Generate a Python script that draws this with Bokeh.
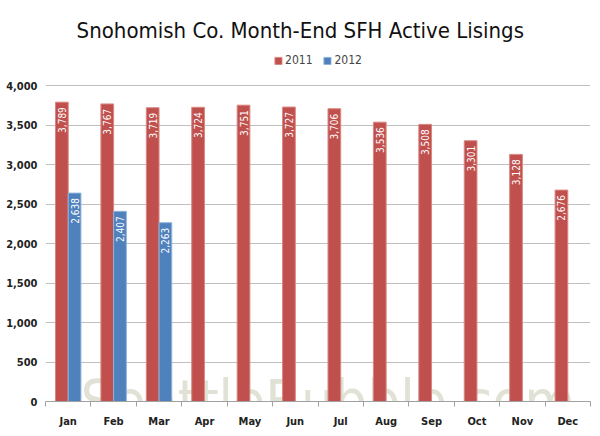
from bokeh.plotting import figure
from bokeh.models import (FactorRange, ColumnDataSource, Legend, LegendItem, NumeralTickFormatter, Label,
                          FixedTicker, Range1d, LinearAxis)
from bokeh.transform import dodge
from bokeh.core.properties import value
from bokeh.embed import file_html
from bokeh.resources import INLINE

months = ["Jan", "Feb", "Mar", "Apr", "May", "Jun", "Jul", "Aug", "Sep", "Oct", "Nov", "Dec"]
y2011 = [3789, 3767, 3719, 3724, 3751, 3727, 3706, 3536, 3508, 3301, 3128, 2676]
months2012 = ["Jan", "Feb", "Mar"]
y2012 = [2638, 2407, 2263]
yticks = [0, 500, 1000, 1500, 2000, 2500, 3000, 3500, 4000]
title_text = "Snohomish Co. Month-End SFH Active Lisings"

FONT = "DejaVu Sans Condensed"
RED = "#C0504D"
BLUE = "#4F81BD"

src11 = ColumnDataSource(dict(m=months, v=y2011, lab=[f"{v:,}" for v in y2011]))
src12 = ColumnDataSource(dict(m=months2012, v=y2012, lab=[f"{v:,}" for v in y2012]))

p = figure(x_range=FactorRange(*months), y_range=Range1d(0, 5076), width=600, height=436,
           output_backend="svg", toolbar_location=None, x_axis_location=None,
           min_border_left=45, min_border_right=10, min_border_bottom=35, min_border_top=0)
p.background_fill_color = "white"
p.border_fill_color = "white"
p.outline_line_color = None

# x axis on synthetic category coordinates: labels at centers, small ticks at boundaries
centers = [i + 0.5 for i in range(len(months))]
bounds = [float(i) for i in range(len(months) + 1)]
xax = LinearAxis(ticker=FixedTicker(ticks=centers, minor_ticks=bounds),
                 major_label_overrides={c: m for c, m in zip(centers, months)})
xax.axis_line_color = "#a0a0a0"
xax.major_tick_line_color = None
xax.major_tick_in = 0
xax.major_tick_out = 0
xax.minor_tick_line_color = "#a0a0a0"
xax.minor_tick_in = 0
xax.minor_tick_out = 5
xax.major_label_standoff = 8
xax.major_label_text_font = FONT
xax.major_label_text_font_size = "11px"
xax.major_label_text_font_style = "bold"
xax.major_label_text_color = "#222222"
p.add_layout(xax, "below")

wm = Label(x=0.77, y=0, x_units="data", y_units="data", text="SeattleBubble.com",
           text_font=FONT, text_font_size="58px", text_color="#dfe2d4",
           text_baseline="alphabetic", level="underlay")
p.add_layout(wm)

tl = Label(x=5.61, y=4696, x_units="data", y_units="data", text=title_text,
           text_font=FONT, text_font_size="22px", text_color="#111111",
           text_align="center", text_baseline="middle")
p.add_layout(tl)

r1 = p.vbar(x=dodge("m", -0.14, range=p.x_range), top="v", width=0.28, source=src11,
            fill_color=RED, line_color="#d98880", line_width=1)
r2 = p.vbar(x=dodge("m", 0.14, range=p.x_range), top="v", width=0.28, source=src12,
            fill_color=BLUE, line_color="#8fb2dd", line_width=1)

for s, off in ((src11, -0.14), (src12, 0.14)):
    p.text(x=dodge("m", off, range=p.x_range), y="v", text="lab", source=s, angle=1.5708,
           text_align="right", text_baseline="middle", y_offset=5,
           text_font=value(FONT), text_font_size="10px", text_color="white")

legend = Legend(items=[LegendItem(label="2011", renderers=[r1]), LegendItem(label="2012", renderers=[r2])],
                orientation="horizontal", location="top_center", label_text_font=FONT,
                label_text_font_size="12px", glyph_width=9, glyph_height=9, spacing=10,
                label_standoff=3, border_line_color=None, padding=2, margin=53,
                background_fill_alpha=0, label_height=12)
p.add_layout(legend)

p.yaxis.ticker = FixedTicker(ticks=yticks)
p.yaxis.formatter = NumeralTickFormatter(format="0,0")
p.yaxis.axis_line_color = None
p.yaxis.major_tick_line_color = None
p.yaxis.minor_tick_line_color = None
p.yaxis.major_tick_out = 0
p.yaxis.major_label_standoff = 8
p.yaxis.major_label_text_font = FONT
p.yaxis.major_label_text_font_size = "11px"
p.yaxis.major_label_text_font_style = "bold"
p.yaxis.major_label_text_color = "#222222"

p.xgrid.grid_line_color = None
p.ygrid.ticker = FixedTicker(ticks=yticks)
p.ygrid.grid_line_color = "#c0c0c0"
p.ygrid.grid_line_width = 1

out = file_html(p, INLINE)
open("out.html", "w").write(out)
